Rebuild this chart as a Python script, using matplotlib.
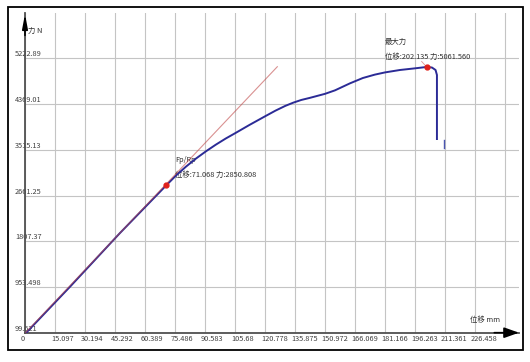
import matplotlib

matplotlib.use("Agg")
import matplotlib.pyplot as plt
from matplotlib.patches import Rectangle
from matplotlib.transforms import ScaledTranslation

plt.rcParams["font.family"] = ["Noto Sans CJK SC", "DejaVu Sans"]

# curve (displacement mm, force N)
disp = [0, 22.65, 47.8, 71.068, 76.0, 81.0, 86.0, 91.0, 96.0, 101.0, 106.0,
        113.0, 120.8, 126.0, 131.0, 135.0, 139.0, 143.4, 151.0, 156.0, 163.5,
        170.0, 176.0, 181.2, 188.7, 196.3, 202.135, 204.8, 206.6, 207.3, 207.3]
force = [75, 958, 1961, 2850.808, 3035, 3200, 3350, 3485, 3610, 3725, 3830,
         3980, 4140, 4245, 4335, 4395, 4445, 4485, 4560, 4625, 4755,
         4855, 4918, 4960, 5005, 5036, 5061.56, 5051, 5005, 4912, 3716]

tail_x = [211.1, 211.1]
tail_y = [3699, 3550]

tangent_x = [0, 126.97]
tangent_y = [90, 5066]

fp_point = (71.068, 2850.808)
max_point = (202.135, 5061.56)

x_ticks = [0, 15.097, 30.194, 45.292, 60.389, 75.486, 90.583, 105.68, 120.778,
           135.875, 150.972, 166.069, 181.166, 196.263, 211.361, 226.458, 241.555]
x_labels = ["0", "15.097", "30.194", "45.292", "60.389", "75.486", "90.583",
            "105.68", "120.778", "135.875", "150.972", "166.069", "181.166",
            "196.263", "211.361", "226.458", ""]
y_ticks = [99.621, 953.498, 1807.37, 2661.25, 3515.13, 4369.01, 5222.89]
y_labels = ["99.621", "953.498", "1807.37", "2661.25", "3515.13", "4369.01", "5222.89"]

W, H = 530, 362
fig = plt.figure(figsize=(W / 100, H / 100), dpi=100)
ax = fig.add_axes([25 / W, (H - 332.7) / H, 494 / W, 319.7 / H])

ax.set_xlim(0, 494 * 15.097 / 30)
ax.set_ylim(99.621, 99.621 + 319.7 * 853.877 / 45.73)

ax.set_xticks(x_ticks, x_labels)
ax.set_yticks(y_ticks, y_labels)
ax.grid(True, color="#c4c4c4", lw=0.8)
ax.set_axisbelow(True)
ax.tick_params(length=0, labelsize=5.3, labelcolor="#404040")
ax.tick_params(axis="x", pad=1.5)
ax.tick_params(axis="y", pad=0)

dx = ScaledTranslation(-4 / 100, 0, fig.dpi_scale_trans)
for lab in ax.get_xticklabels():
    lab.set_ha("left")
    lab.set_transform(lab.get_transform() + dx)
dy = ScaledTranslation(-10 / 100, 0, fig.dpi_scale_trans)
for lab in ax.get_yticklabels():
    lab.set_ha("left")
    lab.set_va("bottom")
    lab.set_transform(lab.get_transform() + dy)

for s in ["top", "right"]:
    ax.spines[s].set_visible(False)
for s in ["left", "bottom"]:
    ax.spines[s].set_color("#505050")
    ax.spines[s].set_linewidth(1.3)

# axis arrows
ax.annotate("", xy=(1.0, 0), xytext=(0.95, 0), xycoords="axes fraction",
            arrowprops=dict(arrowstyle="-|>,head_length=0.9,head_width=0.32",
                            color="black", lw=1.2, shrinkA=0, shrinkB=0),
            annotation_clip=False)
ax.annotate("", xy=(0, 0.997), xytext=(0, 0.93), xycoords="axes fraction",
            arrowprops=dict(arrowstyle="-|>,head_length=0.85,head_width=0.16",
                            color="black", lw=1.2, shrinkA=0, shrinkB=0),
            annotation_clip=False)

ax.plot(disp, force, color="#2b2b96", lw=1.4, zorder=4)
ax.plot(tangent_x, tangent_y, color="#c04848", lw=0.8, alpha=0.6, zorder=5)
ax.plot(tail_x, tail_y, color="#4a55b0", lw=1.0, zorder=4)
ax.plot([199.6, max_point[0]], [5164, max_point[1]], color="#e09090", lw=0.6, zorder=4)
ax.plot(*fp_point, "o", color="#e0201a", ms=3.5, zorder=6)
ax.plot(*max_point, "o", color="#e0201a", ms=3.5, zorder=6)

tcol = "#303030"
ax.text(75.5, 3315, "Fp/Rp", fontsize=5.3, color=tcol, va="center")
ax.text(75.5, 3053, "位移:71.068 力:2850.808", fontsize=5.3, color=tcol, va="center")
ax.text(181.2, 5537, "最大力", fontsize=5.3, color=tcol, va="center")
ax.text(181.2, 5257, "位移:202.135 力:5061.560", fontsize=5.3, color=tcol, va="center")

ax.text(1.5, 5742, "力 N", fontsize=5.3, color=tcol, va="center")
ax.text(223.9, 337, "位移 mm", fontsize=5.3, color=tcol, va="center")

fig.add_artist(Rectangle((8 / W, (H - 350) / H), 515 / W, 343 / H,
                         transform=fig.transFigure, fill=False,
                         edgecolor="black", lw=1.3))

fig.savefig("out.png", dpi=100)
